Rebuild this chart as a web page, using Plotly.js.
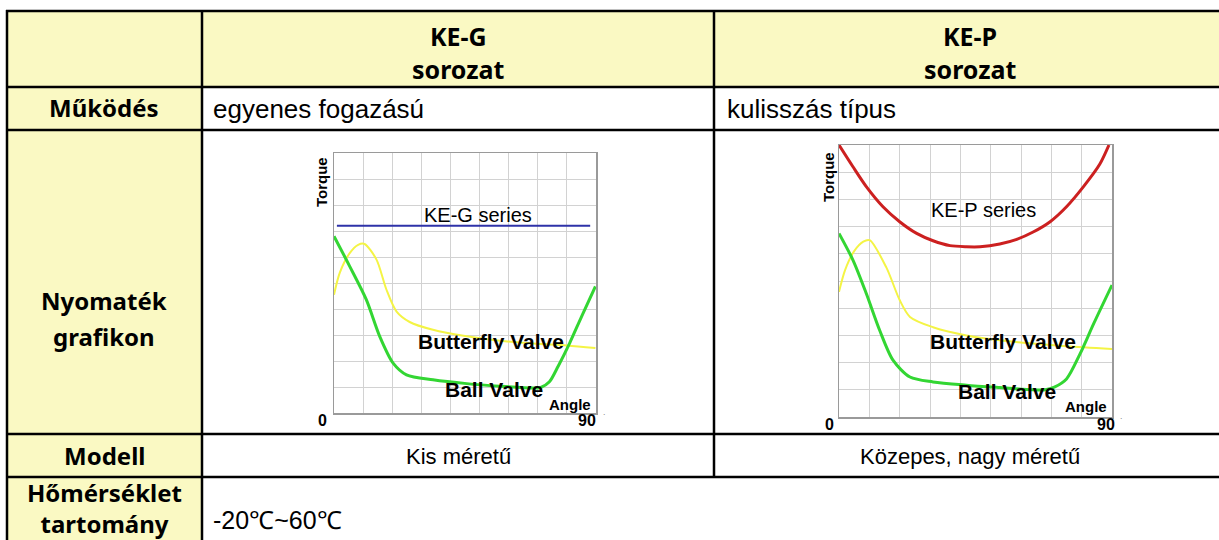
<!DOCTYPE html>
<html><head><meta charset="utf-8">
<script src="https://cdn.plot.ly/plotly-3.0.1.min.js"></script>
<style>html,body{margin:0;padding:0;background:#fff;}#c{width:1219px;height:540px;}</style>
</head><body><div id="c"></div>
<script>
// ---- table texts ----
const headerCols = ["KE-G", "KE-P"];
const headerSub = "sorozat";
const rowLabels = [["Működés"], ["Nyomaték", "grafikon"], ["Modell"], ["Hőmérséklet<br>tartomány"]];
const operation = ["egyenes fogazású", "kulisszás típus"];
const modelSize = ["Kis méretű", "Közepes, nagy méretű"];
const tempRange = "-20℃~60℃";

// ---- left chart (KE-G) ----
const gSeriesAngle = [1, 88];
const gSeriesTorque = [7.2, 7.2];
const gBfAngle = [0, 2, 5.4, 8.3, 10.5, 14.6, 18, 21.5, 26, 34, 45.6, 57, 68.5, 80, 89.8];
const gBfTorque = [4.55, 5.4, 6.15, 6.47, 6.5, 5.9, 4.75, 3.9, 3.5, 3.2, 2.95, 2.78, 2.67, 2.6, 2.5];
const gBallAngle = [0, 5.4, 11.1, 15.7, 20.3, 24.9, 34, 45.6, 57, 68.5, 71, 74, 77, 81, 85, 89.8];
const gBallTorque = [6.8, 5.64, 4.36, 2.95, 1.92, 1.47, 1.28, 1.13, 1.03, 0.96, 0.98, 1.2, 1.8, 2.7, 3.7, 4.87];

// ---- right chart (KE-P) ----
const pSeriesAngle = [0, 4.6, 9, 14.5, 20, 25.6, 31, 36.6, 42, 46.5, 53, 58.6, 64, 69.6, 75, 80.6, 86, 89];
const pSeriesTorque = [10, 9.2, 8.47, 7.73, 7.18, 6.75, 6.48, 6.3, 6.26, 6.26, 6.36, 6.53, 6.8, 7.18, 7.73, 8.47, 9.3, 10];
const pBfAngle = [0, 2, 5, 8, 10.1, 15.6, 20, 23.4, 31, 42, 53, 64, 75, 90];
const pBfTorque = [4.6, 5.4, 6.1, 6.45, 6.5, 5.5, 4.3, 3.68, 3.3, 3.0, 2.82, 2.7, 2.6, 2.5];
const pBallAngle = [0, 4.6, 9, 13.4, 17.8, 23.4, 31, 42, 53, 64, 68, 71, 75, 79.5, 84, 90];
const pBallTorque = [6.75, 5.77, 4.54, 3.19, 2.09, 1.47, 1.29, 1.17, 1.08, 1.0, 1.0, 1.1, 1.4, 2.33, 3.44, 4.85];

const W = 1219, H = 540;
const px = x => x / W, py = y => 1 - y / H;
const YEL = "#FAF9C3";
const BLUE = "#2E32A8", YELLOW = "#F4F445", GREEN = "#33D633", RED = "#CC2020";

function line(x, y, color, width, xa, ya) {
  return {x: x, y: y, type: "scatter", mode: "lines", xaxis: xa, yaxis: ya,
    line: {color: color, width: width, shape: "spline", smoothing: 0.8},
    hoverinfo: "skip", showlegend: false, cliponaxis: true};
}
const traces = [
  line(gBfAngle, gBfTorque, YELLOW, 2, "x", "y"),
  line(gBallAngle, gBallTorque, GREEN, 3, "x", "y"),
  line(gSeriesAngle, gSeriesTorque, BLUE, 2, "x", "y"),
  line(pBfAngle, pBfTorque, YELLOW, 2, "x2", "y2"),
  line(pBallAngle, pBallTorque, GREEN, 3, "x2", "y2"),
  line(pSeriesAngle, pSeriesTorque, RED, 3, "x2", "y2")
];

function ax(domain) {
  return {domain: domain, showgrid: true, gridcolor: "#d2d2d2", gridwidth: 1,
    zeroline: false, showline: true, mirror: true, linecolor: "#9a9a9a", linewidth: 1.5,
    showticklabels: false, ticks: "", fixedrange: true};
}
const xa1 = Object.assign(ax([px(334), px(596)]), {range: [0, 90], dtick: 10, anchor: "y"});
const ya1 = Object.assign(ax([py(413), py(153)]), {range: [0, 10], dtick: 1, anchor: "x"});
const xa2 = Object.assign(ax([px(839), px(1112)]), {range: [0, 90], dtick: 10, anchor: "y2"});
const ya2 = Object.assign(ax([py(417), py(145)]), {range: [0, 10], dtick: 1, anchor: "x2"});

// ---- table geometry ----
const shapes = [];
function rect(x0, y0, x1, y1, fill) {
  shapes.push({type: "rect", xref: "paper", yref: "paper", x0: px(x0), x1: px(x1), y0: py(y0), y1: py(y1),
    fillcolor: fill, line: {width: 0}, layer: "below"});
}
function seg(x0, y0, x1, y1) {
  shapes.push({type: "line", xref: "paper", yref: "paper", x0: px(x0), x1: px(x1), y0: py(y0), y1: py(y1),
    line: {color: "#000", width: 2.5}, layer: "above"});
}
rect(7, 11, 1230, 87, YEL);
rect(7, 87, 202, 560, YEL);
[11, 87, 130, 434, 477].forEach(y => seg(6, y, 1230, y));
seg(7, 10, 7, 560);
seg(202, 10, 202, 560);
seg(714, 10, 714, 477);

const BOLD = "Noto Sans", REG = "Liberation Sans, Arial, sans-serif";
const ann = [];
function t(text, x, y, opts) {
  ann.push(Object.assign({text: text, xref: "paper", yref: "paper", x: px(x), y: py(y),
    xanchor: "center", yanchor: "middle", showarrow: false,
    font: {family: REG, size: 26, color: "#000"}}, opts || {}));
}
const bf = (s) => ({family: BOLD, size: s, color: "#000", weight: 700});
const colCenters = [458, 970];
headerCols.forEach((h, i) => {
  t("<b>" + h + "</b>", colCenters[i], 36, {font: bf(25)});
  t("<b>" + headerSub + "</b>", colCenters[i], 69, {font: bf(25)});
});
const labY = [[108], [300, 336], [455], [508]];
rowLabels.forEach((l, i) => l.forEach((s, j) => t("<b>" + s + "</b>", 104, labY[i][j], {font: bf(24)})));
t(operation[0], 211, 109, {xanchor: "left"});
t(operation[1], 725, 109, {xanchor: "left"});
t(modelSize[0], colCenters[0], 456, {font: {family: REG, size: 22, color: "#000"}});
t(modelSize[1], colCenters[1], 456, {font: {family: REG, size: 22, color: "#000"}});
t(tempRange, 211, 520, {xanchor: "left", font: {family: REG, size: 25, color: "#000"}});

// ---- chart labels ----
function ct(text, x, y, xr, yr, opts) {
  ann.push(Object.assign({text: text, xref: xr, yref: yr, x: x, y: y, xanchor: "center", yanchor: "middle",
    showarrow: false, font: {family: REG, size: 20, color: "#000"}}, opts || {}));
}
const lab = (s) => ({family: REG, size: s, color: "#000", weight: 700});
ct("KE-G series", 49.5, 7.6, "x", "y");
ct("<b>Butterfly Valve</b>", 53.8, 2.76, "x", "y", {font: lab(21)});
ct("<b>Ball Valve</b>", 54.8, 0.92, "x", "y", {font: lab(21)});
ct("<b>Angle</b>", 89, 0.32, "x", "y", {xanchor: "right", font: lab(15)});
ct("KE-P series", 47.6, 7.6, "x2", "y2");
ct("<b>Butterfly Valve</b>", 54.2, 2.76, "x2", "y2", {font: lab(21)});
ct("<b>Ball Valve</b>", 55.3, 0.92, "x2", "y2", {font: lab(21)});
ct("<b>Angle</b>", 89, 0.37, "x2", "y2", {xanchor: "right", font: lab(15)});
t("<b>Torque</b>", 321, 182, {textangle: -90, font: lab(15)});
t("<b>Torque</b>", 829, 177, {textangle: -90, font: lab(15)});
t("<b>0</b>", 322, 420, {font: lab(16)});
t("<b>90</b>", 587, 420, {font: lab(16)});
t("<b>0</b>", 829, 424, {font: lab(16)});
t("<b>90</b>", 1106, 424, {font: lab(16)});
t("˙", 604, 418, {font: {family: REG, size: 10, color: "#888"}});
t("˙", 1121, 422, {font: {family: REG, size: 10, color: "#888"}});

const layout = {width: W, height: H, margin: {l: 0, r: 0, t: 0, b: 0},
  paper_bgcolor: "#fff", plot_bgcolor: "#fff", showlegend: false,
  xaxis: xa1, yaxis: ya1, xaxis2: xa2, yaxis2: ya2, shapes: shapes, annotations: ann};
Plotly.newPlot("c", traces, layout, {staticPlot: true, displayModeBar: false});
</script></body></html>
